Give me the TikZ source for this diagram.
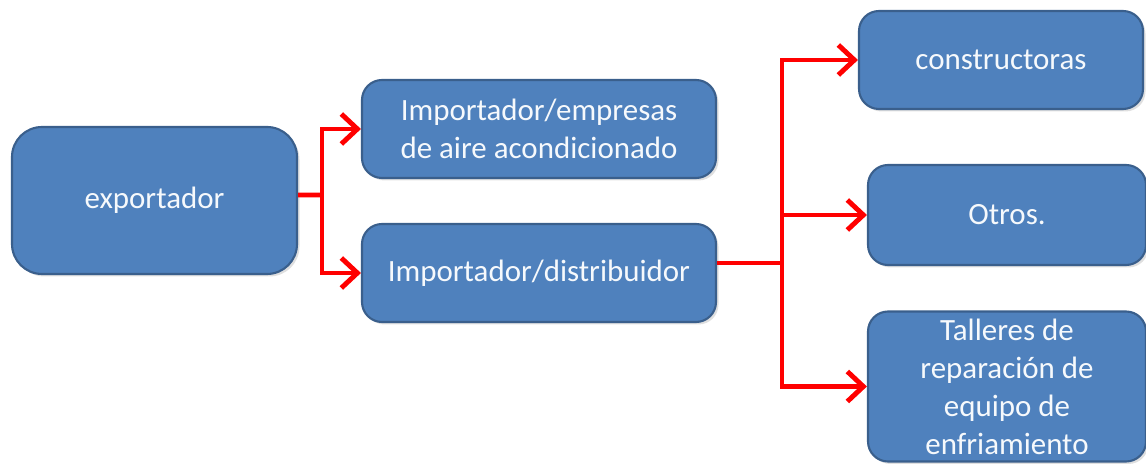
\documentclass[tikz,border=0pt]{standalone}
\usepackage{fontspec}
\setmainfont{Carlito}
\usetikzlibrary{arrows.meta,shadows}
\definecolor{cajaazul}{HTML}{4F81BD}
\definecolor{bordeazul}{HTML}{3A5F8C}
\definecolor{rojo}{HTML}{FF0000}

\begin{document}
\begin{tikzpicture}[caja/.style={draw=bordeazul, line width=1.2pt, fill=cajaazul, rounded corners=0.4cm, text=white!95!cajaazul, align=center, inner sep=0pt, font=\fontsize{17.6}{21.6}\selectfont, drop shadow={opacity=0.25, shadow xshift=0.05cm, shadow yshift=-0.05cm}},
flecha/.style={draw=rojo, line width=2.8pt, -{Straight Barb[length=0.32cm, width=0.6cm, line width=2.8pt]}},
linea/.style={draw=rojo, line width=2.8pt}]
\useasboundingbox (0,0) rectangle (22.92,9.3);

\node[caja, minimum width=5.7cm, minimum height=2.94cm, rounded corners=0.6cm] (exp) at (3.09,5.29) {exportador};
\node[caja, minimum width=7.08cm, minimum height=1.96cm] (emp) at (10.78,6.72) {Importador/empresas\\de aire acondicionado};
\node[caja, minimum width=7.08cm, minimum height=1.96cm] (dis) at (10.78,3.84) {Importador/distribuidor};
\node[caja, minimum width=5.68cm, minimum height=1.96cm] (con) at (20.02,8.10) {constructoras};
\node[caja, minimum width=5.56cm, minimum height=2.0cm] (otr) at (20.14,5.0) {Otros.};
\node[caja, minimum width=5.56cm, minimum height=3.0cm] (tal) at (20.14,1.57) {Talleres de\\reparación de\\equipo de\\enfriamiento};

\coordinate (j1) at (6.44,5.40);
\coordinate (j2) at (15.64,4.04);

\draw[linea] ([yshift=0.11cm]exp.east) -- (j1);
\draw[flecha] (j1) |- (emp.west);
\draw[flecha] (j1) |- (dis.west);

\draw[linea] ([yshift=0.2cm]dis.east) -- (j2);
\draw[flecha] (j2) |- (con.west);
\draw[flecha] (j2) |- (otr.west);
\draw[flecha] (j2) |- (tal.west);
\end{tikzpicture}
\end{document}
